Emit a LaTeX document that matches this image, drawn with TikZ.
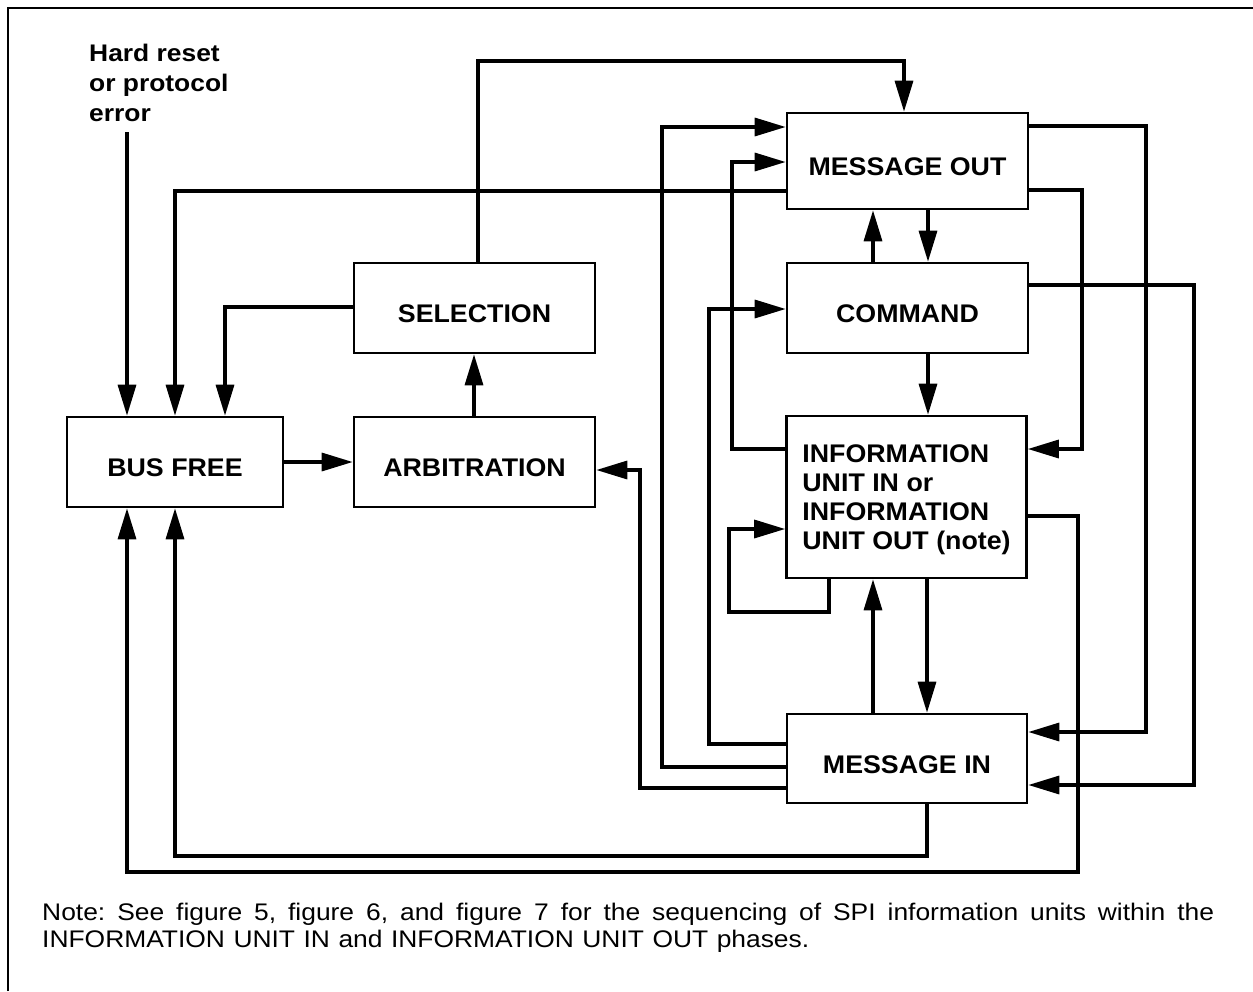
\documentclass[tikz,border=0pt]{standalone}
\usepackage{fontspec}
\usetikzlibrary{arrows.meta}
\newfontfamily\boxfont{Liberation Sans}[FakeStretch=1.05]
\newfontfamily\hrfont{Liberation Sans}[FakeStretch=1.1]
\newfontfamily\notefont{Liberation Sans}[FakeStretch=1.1]
\frenchspacing
\tikzset{
  boxbase/.style={draw, line width=2.6pt, minimum width=241pt, minimum height=90pt, inner sep=0pt,
    font=\boxfont\bfseries\fontsize{25.5}{29}\selectfont},
  box/.style={boxbase, text height=29pt, text depth=0pt},
  conn/.style={line width=3.3pt, -{Triangle[length=31pt,width=18pt]}},
}
\begin{document}
\begin{tikzpicture}[x=1pt,y=-1pt]
\useasboundingbox (0,0) rectangle (1253,991);
% frame
\draw[line width=2.8pt] (8,991) -- (8,8) -- (1253,8);

% boxes
\node[box, minimum width=216pt] (bf) at (175,462) {BUS FREE};
\node[box] (arb) at (474.5,462) {ARBITRATION};
\node[box] (sel) at (474.5,308) {SELECTION};
\node[box, minimum height=96pt] (mo) at (907.5,161) {MESSAGE OUT};
\node[box] (cmd) at (907.5,308) {COMMAND};
\node[boxbase, minimum width=240pt, minimum height=162pt, align=left] (info) at (906.5,497)
  {\rule{0pt}{24pt}INFORMATION\\UNIT IN or\\INFORMATION\\UNIT OUT (note)};
\node[box, minimum width=240pt, minimum height=89pt] (mi) at (907,758.5) {MESSAGE IN};

% texts
\node[font=\hrfont\bfseries\fontsize{24}{30}\selectfont, align=left, anchor=north west, inner sep=0pt]
  (hr) at (89,44) {Hard reset\\or protocol\\error};
\coordinate (hr0) at (127,132);
\node[font=\notefont\fontsize{24}{26.5}\selectfont, align=left, anchor=north west, inner sep=0pt]
  (note) at (42,903)
  {\makebox[1172pt][s]{Note: See figure 5, figure 6, and figure 7 for the sequencing of SPI information units within the}\\
   \makebox[767pt][s]{INFORMATION UNIT IN and INFORMATION UNIT OUT phases.}};

% connectors
\draw[conn] (hr0) -- (127,0 |- bf.north);
\draw[conn] (mo.west |- 0,191) -- (175,191) -- (175,0 |- bf.north);
\draw[conn] (sel.west |- 0,307) -| (225,0 |- bf.north);
\draw[conn] (478,0 |- sel.north) |- (904,61) -- (904,0 |- mo.north);
\draw[conn] (474,0 |- arb.north) -- (474,0 |- sel.south);
\draw[conn] (bf.east) -- (arb.west);
\draw[conn] (mi.west |- 0,788) -| (640,470) -- (arb.east |- 0,470);
\draw[conn] (mi.west |- 0,767) -| (662,127) -- (mo.west |- 0,127);
\draw[conn] (info.west |- 0,449) -| (732,162) -- (mo.west |- 0,162);
\draw[conn] (mi.west |- 0,744) -| (709,309) -- (cmd.west |- 0,309);
\draw[conn] (873,0 |- cmd.north) -- (873,0 |- mo.south);
\draw[conn] (928,0 |- mo.south) -- (928,0 |- cmd.north);
\draw[conn] (928,0 |- cmd.south) -- (928,0 |- info.north);
\draw[conn] (mo.east |- 0,126) -| (1146,732) -- (mi.east |- 0,732);
\draw[conn] (mo.east |- 0,190) -| (1082,449) -- (info.east |- 0,449);
\draw[conn] (cmd.east |- 0,285) -| (1194,785) -- (mi.east |- 0,785);
\draw[conn] (info.east |- 0,516) -| (1078,872) -| (127,0 |- bf.south);
\draw[conn] (927,0 |- mi.south) -- (927,856) -| (175,0 |- bf.south);
\draw[conn] (829,0 |- info.south) -- (829,612) -| (729,529) -- (info.west |- 0,529);
\draw[conn] (873,0 |- mi.north) -- (873,0 |- info.south);
\draw[conn] (927,0 |- info.south) -- (927,0 |- mi.north);
\end{tikzpicture}
\end{document}
